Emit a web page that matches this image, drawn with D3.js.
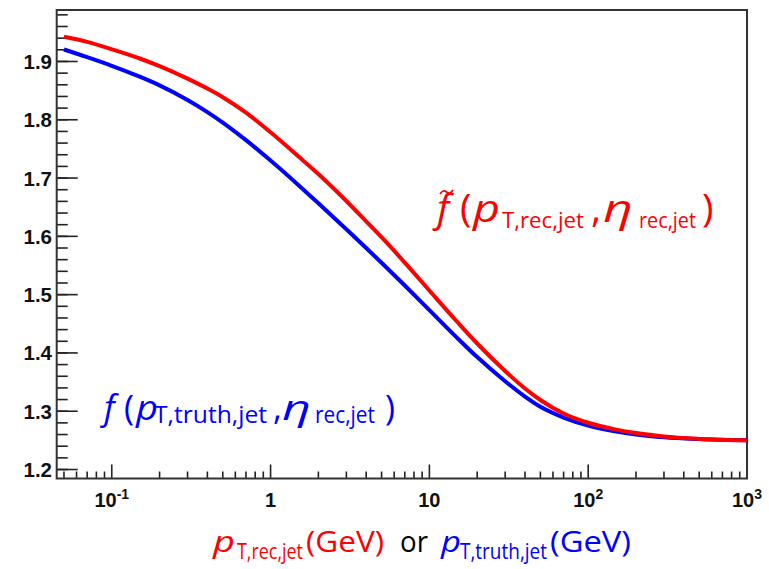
<!DOCTYPE html>
<html>
<head>
<meta charset="utf-8">
<script src="https://cdn.jsdelivr.net/npm/d3@7"></script>
<style>
  html, body { margin: 0; padding: 0; background: #fff; }
  svg { display: block; }
</style>
</head>
<body>
<svg id="chart" width="769" height="569"></svg>
<script>
// Correction factor vs jet pT (GeV), log x axis
const ptGrid  = [0.05, 0.07, 0.1, 0.15, 0.2, 0.3, 0.4, 0.5, 0.7, 1, 1.5, 2, 3, 4, 5, 7, 10, 15, 20, 30, 40, 50, 70, 100, 150, 200, 300, 500, 1000];
// f~(pT,rec,jet , eta_rec,jet)
const fRec    = [1.9423, 1.9336, 1.9209, 1.9051, 1.8921, 1.8705, 1.8535, 1.8387, 1.8123, 1.7785, 1.7370, 1.7070, 1.6607, 1.6258, 1.5986, 1.5550, 1.5071, 1.4531, 1.4162, 1.3690, 1.3390, 1.3193, 1.2961, 1.2802, 1.2685, 1.2625, 1.2565, 1.2525, 1.2501];
// f(pT,truth,jet , eta_rec,jet)
const fTruth  = [1.9205, 1.9074, 1.8926, 1.8739, 1.8590, 1.8339, 1.8132, 1.7952, 1.7650, 1.7300, 1.6878, 1.6569, 1.6123, 1.5800, 1.5546, 1.5157, 1.4735, 1.4255, 1.3929, 1.3515, 1.3251, 1.3076, 1.2892, 1.2754, 1.2652, 1.2601, 1.2553, 1.2522, 1.2501];

const xDomain = [0.045, 1000];
const yDomain = [1.1846, 1.9883];
const yTickValues = [1.2, 1.3, 1.4, 1.5, 1.6, 1.7, 1.8, 1.9];
const yTickLabels = ["1.2", "1.3", "1.4", "1.5", "1.6", "1.7", "1.8", "1.9"];
const xTickValues = [0.1, 1, 10, 100, 1000];
const xTickBase   = ["10", "1", "10", "10", "10"];
const xTickExp    = ["-1", "", "", "2", "3"];

const RED = "#ff0000", BLUE = "#0000ff";
const W = 769, H = 569;
const margin = { left: 56.7, top: 10, right: W - 747, bottom: H - 478.5 };

const svg = d3.select("#chart");
const x = d3.scaleLog().domain(xDomain).range([margin.left, W - margin.right]);
const y = d3.scaleLinear().domain(yDomain).range([H - margin.bottom, margin.top]);

// minor ticks
const yMinor = d3.range(120, 199, 2).map(v => v / 100).filter(v => v >= yDomain[0] && v <= yDomain[1]);
const xMinor = [];
[0.01, 0.1, 1, 10, 100].forEach(d => { for (let k = 2; k < 10; k++) { const v = d * k; if (v >= xDomain[0] && v <= xDomain[1]) xMinor.push(v); } });

const axes = svg.append("g").attr("stroke", "#222").attr("stroke-width", 1.6);
axes.selectAll(".ym").data(yMinor).join("line")
  .attr("x1", x.range()[0]).attr("x2", x.range()[0] + 11)
  .attr("y1", d => y(d)).attr("y2", d => y(d));
axes.selectAll(".yM").data(yTickValues).join("line")
  .attr("x1", x.range()[0]).attr("x2", x.range()[0] + 21)
  .attr("y1", d => y(d)).attr("y2", d => y(d));
axes.selectAll(".xm").data(xMinor).join("line")
  .attr("x1", d => x(d)).attr("x2", d => x(d))
  .attr("y1", y.range()[0]).attr("y2", y.range()[0] - 7);
axes.selectAll(".xM").data(xTickValues).join("line")
  .attr("x1", d => x(d)).attr("x2", d => x(d))
  .attr("y1", y.range()[0]).attr("y2", y.range()[0] - 14);

// frame
svg.append("rect")
  .attr("x", x.range()[0]).attr("y", y.range()[1])
  .attr("width", x.range()[1] - x.range()[0]).attr("height", y.range()[0] - y.range()[1])
  .attr("fill", "none").attr("stroke", "#333").attr("stroke-width", 2);

// tick labels
const tickFont = "'Liberation Sans', Arial, sans-serif";
svg.append("g").selectAll("text").data(yTickValues).join("text")
  .attr("x", 52).attr("y", d => y(d) + 7.5)
  .attr("text-anchor", "end")
  .attr("font-family", tickFont).attr("font-weight", "bold").attr("font-size", 20.5)
  .attr("fill", "#111")
  .text((d, i) => yTickLabels[i]);

const xl = svg.append("g").selectAll("text").data(xTickValues).join("text")
  .attr("x", d => x(d)).attr("y", 507)
  .attr("text-anchor", "middle")
  .attr("font-family", tickFont).attr("font-weight", "bold").attr("font-size", 20)
  .attr("fill", "#111");
xl.append("tspan").text((d, i) => xTickBase[i]);
xl.append("tspan").attr("dy", -8).attr("font-size", 14).text((d, i) => xTickExp[i]);

// curves
const line = d3.line().x(d => x(d[0])).y(d => y(d[1])).curve(d3.curveMonotoneX);
svg.append("path").datum(ptGrid.map((p, i) => [p, fTruth[i]]))
  .attr("d", line).attr("fill", "none").attr("stroke", BLUE).attr("stroke-width", 4);
svg.append("path").datum(ptGrid.map((p, i) => [p, fRec[i]]))
  .attr("d", line).attr("fill", "none").attr("stroke", RED).attr("stroke-width", 4);

// formula text: one <text> per formula, pieces laid out as tspans on their baselines
const labFont = "'Open Sans', Lato, sans-serif";
function formula(parts, color) {
  const t = svg.append("text").attr("font-family", labFont).attr("fill", color);
  parts.forEach(p => {
    const s = t.append("tspan").attr("x", p.x).attr("y", p.y)
      .attr("font-size", p.size)
      .attr("font-style", p.it ? "italic" : "normal")
      .text(p.t);
    if (p.c) s.attr("fill", p.c);
    if (p.len) s.attr("textLength", p.len).attr("lengthAdjust", "spacingAndGlyphs");
  });
  return t;
}

// tilde accent over the red f
svg.append("path").attr("d", "M440,194 q3.2,-5 6.5,-2 t6.5,-2")
  .attr("fill", "none").attr("stroke", RED).attr("stroke-width", 1.8);
formula([
  { t: "f", x: 437, y: 222, size: 39, it: true },
  { t: "(", x: 460, y: 222, size: 39 },
  { t: "p", x: 473, y: 222, size: 39, it: true, len: 27 },
  { t: "T,rec,jet", x: 502, y: 228, size: 22, len: 82 },
  { t: ",", x: 591, y: 222, size: 39 },
  { t: "η", x: 603, y: 222, size: 39, it: true, len: 30 },
  { t: "rec,jet", x: 639, y: 228, size: 21, len: 57 },
  { t: ")", x: 702, y: 222, size: 39 }
], RED);

formula([
  { t: "f", x: 104, y: 420, size: 34, it: true },
  { t: "(", x: 124, y: 420, size: 34 },
  { t: "p", x: 136, y: 420, size: 34, it: true, len: 22 },
  { t: "T,truth,jet", x: 154, y: 423, size: 24, len: 113 },
  { t: ",", x: 273, y: 420, size: 34 },
  { t: "η", x: 282, y: 420, size: 34, it: true, len: 29 },
  { t: "rec,jet", x: 315, y: 423, size: 23, len: 60 },
  { t: ")", x: 385, y: 420, size: 34 }
], BLUE);

// axis title
formula([
  { t: "p", x: 213, y: 552, size: 30, it: true, len: 22, c: RED },
  { t: "T,rec,jet", x: 237, y: 559, size: 21, len: 66, c: RED },
  { t: "(GeV)", x: 306, y: 552, size: 29, len: 78, c: RED },
  { t: "or", x: 400, y: 552, size: 29, len: 28, c: "#000" },
  { t: "p", x: 441, y: 552, size: 30, it: true, len: 20, c: BLUE },
  { t: "T,truth,jet", x: 460, y: 559, size: 21, len: 87, c: BLUE },
  { t: "(GeV)", x: 550, y: 552, size: 29, len: 81, c: BLUE }
], RED);
</script>
</body>
</html>
